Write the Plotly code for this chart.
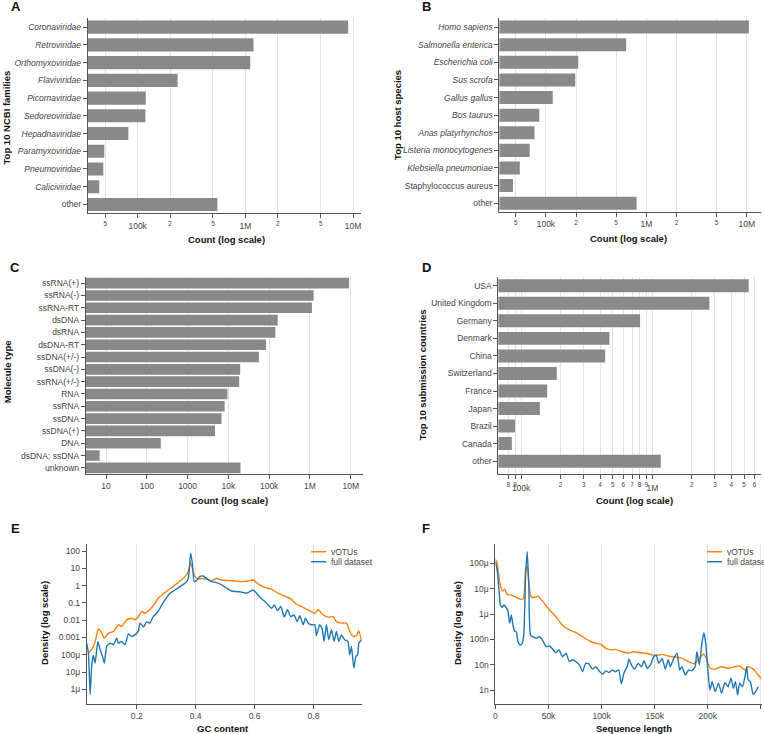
import plotly.graph_objects as go

W, H = 764, 734
FONT = "Liberation Sans, Arial, Helvetica, sans-serif"
BAR = "#898989"
ORANGE = "#ff7f0e"
BLUE = "#1f77b4"
GRID = "#e2e2e2"
AX = "#555555"
TICK = "#444444"
TITLE = "#111111"

# ---------------- data ----------------
families = ["Coronaviridae", "Retroviridae", "Orthomyxoviridae", "Flaviviridae", "Picornaviridae",
            "Sedoreoviridae", "Hepadnaviridae", "Paramyxoviridae", "Pneumoviridae", "Caliciviridae", "other"]
family_counts = [9.0e6, 1.19e6, 1.11e6, 2.35e5, 1.19e5, 1.18e5, 8.2e4, 4.9e4, 4.8e4, 4.4e4, 5.5e5]
family_italic = [True] * 10 + [False]

hosts = ["Homo sapiens", "Salmonella enterica", "Escherichia coli", "Sus scrofa", "Gallus gallus",
         "Bos taurus", "Anas platyrhynchos", "Listeria monocytogenes", "Klebsiella pneumoniae",
         "Staphylococcus aureus", "other"]
host_counts = [1.05e7, 6.3e5, 2.1e5, 1.96e5, 1.17e5, 8.6e4, 7.7e4, 6.9e4, 5.5e4, 4.7e4, 8.0e5]
host_italic = [True] * 9 + [False, False]

molecules = ["ssRNA(+)", "ssRNA(-)", "ssRNA-RT", "dsDNA", "dsRNA", "dsDNA-RT", "ssDNA(+/-)", "ssDNA(-)",
             "ssRNA(+/-)", "RNA", "ssRNA", "ssDNA", "ssDNA(+)", "DNA", "dsDNA; ssDNA", "unknown"]
molecule_counts = [9.1e6, 1.23e6, 1.12e6, 1.62e5, 1.42e5, 8.4e4, 5.6e4, 1.95e4, 1.84e4, 9.5e3, 8.1e3,
                   6.8e3, 4.7e3, 220, 7, 1.98e4]

countries = ["USA", "United Kingdom", "Germany", "Denmark", "China", "Switzerland", "France", "Japan",
             "Brazil", "Canada", "other"]
country_counts = [5.42e6, 2.72e6, 8.07e5, 4.71e5, 4.37e5, 1.87e5, 1.58e5, 1.39e5, 9.0e4, 8.5e4, 1.16e6]

gc_votus_x = [0.034, 0.047, 0.059, 0.070, 0.079, 0.090, 0.104, 0.121, 0.138, 0.149, 0.166, 0.183, 0.194,
              0.206, 0.217, 0.228, 0.245, 0.262, 0.273, 0.296, 0.319, 0.341, 0.364, 0.375, 0.383, 0.389,
              0.398, 0.409, 0.420, 0.437, 0.454, 0.471, 0.488, 0.511, 0.533, 0.556, 0.578, 0.595, 0.612,
              0.635, 0.658, 0.680, 0.703, 0.725, 0.742, 0.759, 0.776, 0.793, 0.805, 0.816, 0.833, 0.850,
              0.867, 0.878, 0.895, 0.912, 0.923, 0.934, 0.946, 0.954, 0.963]
gc_votus_y = [1.15e-4, 1.95e-4, 5.9e-4, 3.2e-3, 2.2e-3, 9.1e-4, 1.8e-3, 2.2e-3, 5.4e-3, 4.3e-3, 1.05e-2,
              1.3e-2, 1.05e-2, 1.6e-2, 3.2e-2, 2.5e-2, 4.3e-2, 9.5e-2, 0.19, 0.4, 0.79, 1.5, 3.3, 6.5, 21,
              10, 3.3, 2.4, 2.6, 2.4, 1.95, 2.6, 2.1, 1.95, 1.85, 1.7, 1.85, 2.1, 1.26, 0.79, 0.62, 0.36,
              0.25, 0.16, 0.083, 0.062, 0.043, 0.032, 0.025, 0.04, 0.02, 0.015, 0.016, 0.0083, 0.0068,
              0.0068, 0.0022, 0.00115, 0.00126, 0.0025, 0.00059]

gc_full_x = [0.030, 0.036, 0.042, 0.047, 0.053, 0.059, 0.068, 0.076, 0.084, 0.090, 0.098, 0.110, 0.121,
             0.132, 0.138, 0.149, 0.160, 0.172, 0.183, 0.194, 0.206, 0.211, 0.223, 0.234, 0.245, 0.256,
             0.273, 0.285, 0.296, 0.313, 0.330, 0.347, 0.364, 0.375, 0.383, 0.389, 0.395, 0.403, 0.414,
             0.426, 0.437, 0.454, 0.471, 0.488, 0.505, 0.522, 0.539, 0.556, 0.573, 0.584, 0.595, 0.607,
             0.618, 0.635, 0.646, 0.658, 0.667, 0.678, 0.689, 0.701, 0.712, 0.723, 0.734, 0.745, 0.754,
             0.765, 0.773, 0.782, 0.793, 0.805, 0.810, 0.821, 0.829, 0.836, 0.844, 0.852, 0.861, 0.870,
             0.878, 0.886, 0.895, 0.906, 0.917, 0.923, 0.929, 0.937, 0.944, 0.950, 0.954, 0.961]
gc_full_y = [4.7e-4, 1.26e-4, 5e-7, 2.1e-5, 9.1e-5, 3.3e-5, 5.9e-4, 1.95e-4, 7.9e-5, 3.3e-5, 3.0e-4,
             4.7e-4, 3.8e-4, 9.1e-4, 4.7e-4, 5.9e-4, 3.8e-4, 1.6e-3, 1.15e-3, 1.4e-3, 2.5e-3, 6.8e-3,
             4.0e-3, 8.3e-3, 6.8e-3, 1.6e-2, 3.2e-2, 7.6e-2, 0.15, 0.36, 0.56, 0.87, 1.35, 2.6, 74, 19.5,
             1.7, 1.95, 3.3, 3.6, 2.6, 1.7, 1.5, 1.1, 0.71, 0.49, 0.45, 0.42, 0.36, 0.45, 0.56, 0.36,
             0.21, 0.12, 0.076, 0.049, 0.076, 0.035, 0.062, 0.015, 0.04, 0.016, 0.02, 0.0083, 0.018,
             0.0054, 0.013, 0.0068, 0.0054, 0.0054, 0.00126, 0.0054, 0.0035, 0.00059, 0.0054, 0.00074,
             0.0028, 0.00059, 0.0022, 0.00059, 0.0014, 0.00074, 0.00059, 1.0e-4, 3.0e-4, 1.7e-5, 7.9e-5,
             1.0e-4, 4.7e-4, 6.8e-4]

len_votus_x = [0, 1600, 4000, 6500, 8700, 11000, 15000, 19700, 24000, 26500, 28400, 30000, 31500, 33700,
               36800, 40000, 44600, 51000, 57000, 63000, 69600, 75800, 82000, 88000, 94500, 99000, 104000,
               108600, 113000, 119500, 125700, 130000, 136700, 144500, 150700, 157000, 163000, 169000,
               175700, 182000, 186600, 191000, 196000, 199000, 202000, 207000, 213000, 219000, 225600,
               230000, 235000, 238000, 242700, 247400, 250000]
len_votus_y = [1.45e-4, 1.0e-4, 1.9e-5, 8.1e-6, 9.5e-6, 6.0e-6, 5.6e-6, 4.6e-6, 3.8e-6, 4.2e-6, 5.5e-5,
               7.9e-5, 1.6e-5, 4.6e-6, 4.6e-6, 5.1e-6, 3.1e-6, 1.45e-6, 7.9e-7, 3.7e-7, 2.4e-7, 1.86e-7,
               1.29e-7, 9.1e-8, 7.1e-8, 6.6e-8, 4.5e-8, 3.9e-8, 4.1e-8, 3.3e-8, 2.9e-8, 3.3e-8, 3.0e-8,
               2.7e-8, 2.3e-8, 2.6e-8, 2.2e-8, 2.1e-8, 1.8e-8, 1.35e-8, 1.1e-8, 1.6e-8, 2.7e-8, 1.66e-8,
               7.4e-9, 6.8e-9, 8.5e-9, 7.4e-9, 8.5e-9, 9.1e-9, 6.3e-9, 8.5e-9, 6.8e-9, 4.0e-9, 3.0e-9]

len_full_x = [0, 1600, 3400, 4700, 6500, 7800, 9700, 11900, 13400, 15000, 16500, 18000, 19700, 21200,
              23400, 25300, 26800, 28400, 30000, 31500, 33000, 35300, 38400, 41500, 44600, 47700, 51000,
              54000, 57000, 60000, 63000, 66500, 69600, 72700, 75800, 79000, 82000, 85000, 88000, 91400,
              94500, 97700, 100800, 104000, 107000, 110000, 113000, 116000, 118600, 121000, 124000,
              125700, 128000, 131000, 134500, 137600, 139800, 142900, 146000, 149000, 151300, 153800,
              157000, 160000, 162600, 164700, 167900, 171000, 173500, 175700, 178800, 182000, 185000,
              188000, 189700, 192000, 194400, 196300, 198000, 200000, 202000, 204000, 207000, 210000,
              213000, 216000, 219000, 221800, 224000, 226000, 228000, 230000, 232500, 235000, 236500,
              238000, 240000, 242700, 245000, 247400]
len_full_y = [1.17e-4, 5.5e-5, 8.9e-6, 2.3e-6, 1.86e-6, 2.3e-6, 1.95e-6, 1.26e-6, 4.4e-7, 9.3e-7, 3.7e-7,
              2.2e-7, 2.0e-7, 8.3e-8, 6.0e-8, 7.1e-8, 1.74e-7, 3.0e-5, 2.9e-4, 1.2e-5, 1.5e-7, 1.29e-7,
              1.12e-7, 1.29e-7, 9.1e-8, 5.2e-8, 5.6e-8, 4.1e-8, 3.0e-8, 3.9e-8, 2.1e-8, 2.9e-8, 1.35e-8,
              1.6e-8, 1.35e-8, 1.0e-8, 5.4e-9, 1.15e-8, 1.1e-8, 6.8e-9, 8.5e-9, 5.8e-9, 4.3e-9, 5.8e-9,
              5.0e-9, 6.3e-9, 5.4e-9, 6.3e-9, 1.8e-9, 4.7e-9, 8.5e-9, 1.66e-8, 1.0e-8, 6.8e-9, 1.15e-8,
              8.5e-9, 1.48e-8, 7.4e-9, 1.0e-8, 2.1e-8, 2.45e-8, 1.15e-8, 1.8e-8, 6.8e-9, 1.6e-8, 8.5e-9,
              1.8e-8, 2.9e-8, 6.3e-9, 8.5e-9, 4.0e-9, 6.3e-9, 5.9e-9, 8.5e-9, 3.3e-8, 1.0e-8, 7.1e-8,
              1.86e-7, 7.1e-8, 6.3e-9, 1.0e-9, 2.2e-9, 8.9e-10, 1.9e-9, 7.6e-10, 2.0e-9, 1.38e-9, 3.0e-9,
              1.2e-9, 2.2e-9, 6.6e-10, 1.9e-9, 1.38e-9, 3.5e-9, 8.5e-9, 2.6e-9, 2.2e-9, 6.9e-10, 8.9e-10,
              1.38e-9]

# tick labels of panel D (mantissa digits and decade labels)
d_minor_vals = [8e4, 9e4, 1e5, 2e5, 3e5, 4e5, 5e5, 6e5, 7e5, 8e5, 9e5, 1e6, 2e6, 3e6, 4e6, 5e6, 6e6]
d_minor_digits = ["8", "9", "", "2", "3", "4", "5", "6", "7", "8", "9", "", "2", "3", "4", "5", "6"]
d_major_vals = [1e5, 1e6]
d_major_text = ["100k", "1M"]


# ---------------- helpers ----------------
def X(p):
    return p / W


def Y(p):
    return 1 - p / H


def fmt(names, italic):
    return ["<i>%s</i>" % n if it else n for n, it in zip(names, italic)]


tickfont = dict(family=FONT, size=8.5, color=TICK)


def xlog(dom, anchor, rng, **kw):
    d = dict(domain=[X(dom[0]), X(dom[1])], anchor=anchor, type="log", range=rng, showgrid=True,
             gridcolor=GRID, gridwidth=1, showline=True, linecolor=AX, linewidth=1, ticks="outside",
             ticklen=4, tickcolor=AX, tickfont=tickfont, zeroline=False, mirror=False)
    d.update(kw)
    return d


def ycat(dom, anchor, vals, text):
    return dict(domain=[Y(dom[1]), Y(dom[0])], anchor=anchor, type="category", autorange="reversed",
                showline=True, linecolor=AX, linewidth=1, ticks="outside", ticklen=4, tickcolor=AX,
                tickfont=tickfont, tickvals=vals, ticktext=text, showgrid=False, zeroline=False)


fig = go.Figure()

bar_marker = dict(color=BAR, line=dict(width=0))
fig.add_trace(go.Bar(x=family_counts, y=families, orientation="h", marker=bar_marker,
                     width=0.74, xaxis="x", yaxis="y", showlegend=False))
fig.add_trace(go.Bar(x=host_counts, y=hosts, orientation="h", marker=bar_marker,
                     width=0.74, xaxis="x2", yaxis="y2", showlegend=False))
fig.add_trace(go.Bar(x=molecule_counts, y=molecules, orientation="h", marker=bar_marker,
                     width=0.86, xaxis="x3", yaxis="y3", showlegend=False))
fig.add_trace(go.Bar(x=country_counts, y=countries, orientation="h", marker=bar_marker,
                     width=0.74, xaxis="x4", yaxis="y4", showlegend=False))
# invisible helper so the overlaid decade-label axis of panel D is drawn
fig.add_trace(go.Scatter(x=d_major_vals, y=[countries[-1]] * len(d_major_vals), mode="markers",
                         marker=dict(opacity=0, size=1), xaxis="x7", yaxis="y4", showlegend=False,
                         hoverinfo="skip"))

line_kw = dict(width=1.4, shape="spline", smoothing=0.5)
fig.add_trace(go.Scatter(x=gc_votus_x, y=gc_votus_y, mode="lines", line=dict(color=ORANGE, **line_kw),
                         xaxis="x5", yaxis="y5", showlegend=False, name="vOTUs"))
fig.add_trace(go.Scatter(x=gc_full_x, y=gc_full_y, mode="lines", line=dict(color=BLUE, **line_kw),
                         xaxis="x5", yaxis="y5", showlegend=False, name="full dataset"))
fig.add_trace(go.Scatter(x=len_votus_x, y=len_votus_y, mode="lines", line=dict(color=ORANGE, **line_kw),
                         xaxis="x6", yaxis="y6", showlegend=False, name="vOTUs"))
fig.add_trace(go.Scatter(x=len_full_x, y=len_full_y, mode="lines", line=dict(color=BLUE, **line_kw),
                         xaxis="x6", yaxis="y6", showlegend=False, name="full dataset"))

layout = dict(
    width=W, height=H, margin=dict(l=0, r=0, t=0, b=0), paper_bgcolor="white", plot_bgcolor="white",
    font=dict(family=FONT, size=8.5, color=TICK), showlegend=False,
    xaxis=xlog((86, 360), "y", [4.537, 7.074], dtick="D2"),
    yaxis=ycat((18.3, 213.3), "x", families, fmt(families, family_italic)),
    xaxis2=xlog((498.7, 761), "y2", [4.537, 7.142], dtick="D2"),
    yaxis2=ycat((18.3, 212), "x2", hosts, fmt(hosts, host_italic)),
    xaxis3=xlog((84, 361.5), "y3", [0.504, 7.29], dtick=1),
    yaxis3=ycat((277, 474), "x3", molecules, molecules),
    xaxis4=xlog((497.7, 761), "y4", [4.827, 6.828], tickmode="array", tickvals=d_minor_vals,
                ticktext=d_minor_digits, tickfont=dict(family=FONT, size=6.4, color=TICK)),
    yaxis4=ycat((277, 474), "x4", countries, countries),
    xaxis7=dict(overlaying="x4", anchor="y4", side="bottom", type="log", range=[4.827, 6.828],
                tickmode="array", tickvals=d_major_vals, ticktext=d_major_text, showgrid=False,
                showline=False, ticks="", tickfont=tickfont, ticklabelstandoff=7, zeroline=False),
    xaxis5=dict(domain=[X(85), X(361)], anchor="y5", range=[0.0305, 0.965], dtick=0.2, tick0=0,
                showgrid=True, gridcolor=GRID, showline=True, linecolor=AX, ticks="outside", ticklen=4,
                tickcolor=AX, tickfont=tickfont, zeroline=False),
    yaxis5=dict(domain=[Y(704), Y(544.3)], anchor="x5", type="log", range=[-6.85, 2.39], dtick=1,
                showgrid=False, showline=True, linecolor=AX, ticks="outside", ticklen=4, tickcolor=AX,
                tickfont=tickfont, zeroline=False),
    xaxis6=dict(domain=[X(494.7), X(762)], anchor="y6", range=[0, 251000], dtick=50000, tick0=0,
                showgrid=True, gridcolor=GRID, showline=True, linecolor=AX, ticks="outside", ticklen=4,
                tickcolor=AX, tickfont=tickfont, zeroline=False),
    yaxis6=dict(domain=[Y(704), Y(544.3)], anchor="x6", type="log", range=[-9.54, -3.25], dtick=1,
                showgrid=False, showline=True, linecolor=AX, ticks="outside", ticklen=4, tickcolor=AX,
                tickfont=tickfont, zeroline=False),
)

ann = []


def text(x, y, s, size=9.5, bold=True, angle=0, xanchor="center", color=TITLE):
    ann.append(dict(x=X(x), y=Y(y), xref="paper", yref="paper", text=("<b>%s</b>" % s) if bold else s,
                    showarrow=False, textangle=angle, xanchor=xanchor, yanchor="middle",
                    font=dict(family=FONT, size=size, color=color)))


# panel letters
for letter, (lx, ly) in zip("ABCDEF", [(13.7, 7), (425.3, 6), (13.3, 267), (425.3, 267), (13.3, 528.5),
                                       (425.3, 528.5)]):
    text(lx, ly, letter, size=13)

# x titles
text(225, 240, "Count (log scale)")
text(628, 239, "Count (log scale)")
text(228, 500.5, "Count (log scale)")
text(633.7, 500.5, "Count (log scale)")
text(221.7, 728.3, "GC content")
text(633.7, 728.3, "Sequence length")

# y titles
text(5.5, 117, "Top 10 NCBI families", angle=-90)
text(396, 115, "Top 10 host species", angle=-90)
text(5.5, 371.7, "Molecule type", angle=-90)
text(421.3, 375, "Top 10 submission countries", angle=-90)
text(42.7, 623.3, "Density (log scale)", angle=-90)
text(456, 623.3, "Density (log scale)", angle=-90)

# legends (drawn as swatches + labels)
shapes = []
for (x0, x1, tx) in [(310, 325, 327.5), (707, 722, 724.7)]:
    for (yy, col, lab) in [(551.7, ORANGE, "vOTUs"), (561.7, BLUE, "full dataset")]:
        shapes.append(dict(type="line", xref="paper", yref="paper", x0=X(x0), x1=X(x1), y0=Y(yy), y1=Y(yy),
                           line=dict(color=col, width=1.5)))
        text(tx, yy, lab, size=8.5, bold=False, xanchor="left", color=TICK)

layout["annotations"] = ann
layout["shapes"] = shapes
fig.update_layout(**layout)

fig.write_html("out.html")
